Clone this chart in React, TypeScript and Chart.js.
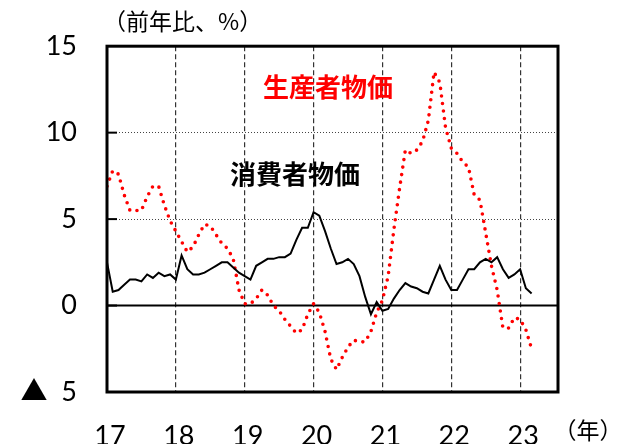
import { useEffect, useRef } from "react";
import { Chart, registerables } from "chart.js";
Chart.register(...registerables);

// Monthly data, Jan 2017 .. Mar 2023 (year-on-year, %)
const startYear = 17;
const cpi = [
  2.5, 0.8, 0.9, 1.2, 1.5, 1.5, 1.4, 1.8, 1.6, 1.9, 1.7, 1.8,
  1.5, 2.9, 2.1, 1.8, 1.8, 1.9, 2.1, 2.3, 2.5, 2.5, 2.2, 1.9,
  1.7, 1.5, 2.3, 2.5, 2.7, 2.7, 2.8, 2.8, 3.0, 3.8, 4.5, 4.5,
  5.4, 5.2, 4.3, 3.3, 2.4, 2.5, 2.7, 2.4, 1.7, 0.5, -0.5, 0.2,
  -0.3, -0.2, 0.4, 0.9, 1.3, 1.1, 1.0, 0.8, 0.7, 1.5, 2.3, 1.5,
  0.9, 0.9, 1.5, 2.1, 2.1, 2.5, 2.7, 2.5, 2.8, 2.1, 1.6, 1.8,
  2.1, 1.0, 0.7,
];
const ppi = [
  6.9, 7.8, 7.6, 6.4, 5.5, 5.5, 5.5, 6.3, 6.9, 6.9, 5.8, 4.9,
  4.3, 3.7, 3.1, 3.4, 4.1, 4.7, 4.6, 4.1, 3.6, 3.3, 2.7, 0.9,
  0.1, 0.1, 0.4, 0.9, 0.6, 0.0, -0.3, -0.8, -1.2, -1.6, -1.4, -0.5,
  0.1, -0.4, -1.5, -3.1, -3.7, -3.0, -2.4, -2.0, -2.1, -2.1, -1.5, -0.4,
  0.3, 1.7, 4.4, 6.8, 9.0, 8.8, 9.0, 9.5, 10.7, 13.5, 12.9, 10.3,
  9.1, 8.8, 8.3, 8.0, 6.4, 6.1, 4.2, 2.3, 0.9, -1.3, -1.3, -0.7,
  -0.8, -1.4, -2.5,
];
const seriesNames = ["消費者物価", "生産者物価"];
const yUnitLabel = "（前年比、%）";
const xUnitLabel = "（年）";
const yMin = -5;
const yMax = 15;
const yStep = 5;
const xMin = 17;
const xMax = 23.55;

const toPoints = (arr: number[]) =>
  arr.map((v, i) => ({ x: startYear + i / 12, y: v }));

const tickFont = { family: "Lato, 'Noto Sans CJK JP'", size: 27 };

const framePlugin = {
  id: "frame",
  beforeDatasetsDraw(chart: any) {
    const { ctx, chartArea } = chart;
    const y0 = chart.scales.y.getPixelForValue(0);
    ctx.save();
    ctx.strokeStyle = "#000";
    ctx.lineWidth = 2;
    ctx.beginPath();
    ctx.moveTo(chartArea.left, y0);
    ctx.lineTo(chartArea.right, y0);
    ctx.stroke();
    ctx.restore();
  },
  afterDatasetsDraw(chart: any) {
    const { ctx, chartArea } = chart;
    const { left, right, top, bottom } = chartArea;
    ctx.save();
    ctx.strokeStyle = "#000";
    ctx.lineWidth = 3;
    ctx.strokeRect(left, top, right - left, bottom - top);
    // inward tick marks on the left axis
    ctx.lineWidth = 2;
    for (let v = yMin + yStep; v < yMax; v += yStep) {
      const py = chart.scales.y.getPixelForValue(v);
      ctx.beginPath();
      ctx.moveTo(left, py);
      ctx.lineTo(left + 10, py);
      ctx.stroke();
    }
    // texts
    ctx.textBaseline = "middle";
    ctx.textAlign = "center";
    ctx.font = "bold 26px 'Noto Sans CJK JP'";
    ctx.fillStyle = "#FF0000";
    ctx.fillText(seriesNames[1], 328, 87);
    ctx.fillStyle = "#000";
    ctx.fillText(seriesNames[0], 295, 174);
    ctx.font = "23px 'Noto Sans CJK JP'";
    ctx.textAlign = "left";
    ctx.fillText(yUnitLabel, 103, 21);
    ctx.font = "23px 'Noto Sans CJK JP'";
    ctx.textAlign = "center";
    ctx.fillText(xUnitLabel, 588, 430);
    ctx.restore();
  },
};

export default function App() {
  const ref = useRef<HTMLCanvasElement>(null);
  useEffect(() => {
    if (!ref.current) return;
    const chart = new Chart(ref.current, {
      type: "line",
      data: {
        datasets: [
          {
            label: seriesNames[0],
            data: toPoints(cpi),
            borderColor: "#000",
            borderWidth: 2,
            pointRadius: 0,
            tension: 0,
          },
          {
            label: seriesNames[1],
            data: toPoints(ppi),
            borderColor: "#FF0000",
            borderWidth: 3.6,
            borderDash: [0, 7.6],
            borderCapStyle: "round",
            pointRadius: 0,
            tension: 0,
          },
        ],
      },
      options: {
        responsive: false,
        animation: false,
        devicePixelRatio: 1,
        layout: { padding: { left: 0, right: 77, top: 42, bottom: 0 } },
        plugins: { legend: { display: false }, tooltip: { enabled: false } },
        scales: {
          x: {
            type: "linear",
            min: xMin,
            max: xMax,
            afterFit: (s: any) => {
              s.height = 52;
            },
            ticks: {
              stepSize: 1,
              includeBounds: false,
              padding: 28,
              labelOffset: 3,
              color: "#000",
              font: tickFont,
              callback: (v: any) => String(v),
            },
            grid: { color: "#333", lineWidth: 1.2, drawTicks: false },
            border: { display: false, dash: [5, 3] },
          },
          y: {
            min: yMin,
            max: yMax,
            afterFit: (s: any) => {
              s.width = 107;
            },
            ticks: {
              stepSize: yStep,
              padding: 30,
              color: "#000",
              font: tickFont,
              callback: (v: any) => (v < 0 ? "▲  " + Math.abs(v) : String(v)),
            },
            grid: { color: "#444", lineWidth: 1, drawTicks: false },
            border: { display: false, dash: [1, 2] },
          },
        },
      },
      plugins: [framePlugin],
    } as any);
    return () => chart.destroy();
  }, []);
  return (
    <div style={{ position: "absolute", left: 0, top: 0, width: 635, height: 444, background: "#fff" }}>
      <canvas ref={ref} width={635} height={444} />
    </div>
  );
}
